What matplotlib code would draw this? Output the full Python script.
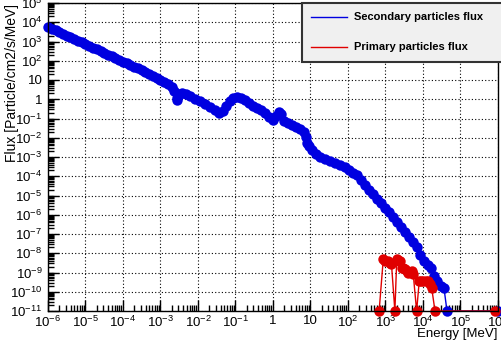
import matplotlib
matplotlib.use('Agg')
import matplotlib.pyplot as plt
import matplotlib.ticker as mticker
from matplotlib.lines import Line2D
import numpy as np

plt.rcParams['font.family'] = ['Liberation Sans', 'DejaVu Sans']
plt.rcParams['mathtext.fontset'] = 'custom'
plt.rcParams['mathtext.rm'] = 'Liberation Sans'
plt.rcParams['mathtext.it'] = 'Liberation Sans:italic'
plt.rcParams['mathtext.bf'] = 'Liberation Sans:bold'

# espectro secundario (log10 da energia em MeV, log10 do fluxo)
sec_log_e = [-6.0, -5.9, -5.8, -5.7, -5.6, -5.5, -5.4, -5.3, -5.2, -5.1,
             -5.0, -4.9, -4.8, -4.7, -4.6, -4.5, -4.4, -4.3, -4.2, -4.1,
             -4.0, -3.9, -3.8, -3.7, -3.6, -3.5, -3.4, -3.3, -3.2, -3.1,
             -3.0, -2.9, -2.8, -2.7, -2.63, -2.57, -2.55, -2.51, -2.43, -2.32,
             -2.21, -2.08, -1.95, -1.81, -1.68, -1.55, -1.44, -1.33, -1.25, -1.15,
             -1.07, -0.96, -0.85, -0.75, -0.64, -0.53, -0.43, -0.32, -0.21, -0.11,
             0.0, 0.08, 0.16, 0.21, 0.29, 0.40, 0.51, 0.61, 0.72, 0.83,
             0.88, 0.91, 0.96, 1.04, 1.15, 1.25, 1.39, 1.52, 1.65, 1.79,
             1.92, 2.03, 2.13, 2.24, 2.35, 2.45, 2.56, 2.67, 2.77, 2.88,
             2.99, 3.09, 3.20, 3.31, 3.41, 3.52, 3.63, 3.73, 3.84, 3.92,
             4.03, 4.13, 4.21, 4.29, 4.37, 4.48, 4.56, 4.64, 6.0]
sec_log_f = [3.76, 3.67, 3.58, 3.49, 3.40, 3.31, 3.22, 3.13, 3.04, 2.95,
             2.86, 2.77, 2.68, 2.59, 2.50, 2.41, 2.32, 2.23, 2.14, 2.05,
             1.96, 1.87, 1.78, 1.69, 1.60, 1.51, 1.42, 1.32, 1.22, 1.12,
             1.02, 0.92, 0.80, 0.66, 0.45, -0.03, 0.07, 0.28, 0.34, 0.28,
             0.18, 0.03, -0.08, -0.23, -0.39, -0.54, -0.70, -0.60, -0.34, -0.08,
             0.08, 0.13, 0.08, -0.03, -0.18, -0.34, -0.44, -0.54, -0.70, -0.91,
             -1.06, -0.85, -0.65, -0.75, -1.11, -1.22, -1.32, -1.42, -1.53, -1.68,
             -1.94, -2.25, -2.41, -2.62, -2.82, -2.98, -3.08, -3.19, -3.29, -3.39,
             -3.50, -3.65, -3.81, -3.96, -4.17, -4.43, -4.69, -4.90, -5.16, -5.41,
             -5.67, -5.88, -6.14, -6.40, -6.66, -6.92, -7.18, -7.44, -7.69, -8.11,
             -8.42, -8.63, -8.78, -9.20, -9.46, -9.72, -9.82, -11.0, -11.0]

# espectro primario
pri_log_e = [2.83, 2.94, 3.00, 3.07, 3.12, 3.16, 3.25, 3.30, 3.35, 3.39,
             3.43, 3.48, 3.52, 3.57, 3.61, 3.66, 3.70, 3.74, 3.83, 3.90,
             3.96, 4.01, 4.07, 4.14, 4.19, 4.23, 4.32, 5.92]
pri_log_f = [-11.0, -8.32, -8.40, -8.42, -8.50, -8.58, -11.0, -8.32, -8.38, -8.42,
             -8.75, -8.78, -8.83, -8.90, -9.00, -8.96, -8.94, -9.09, -11.0, -9.44,
             -9.42, -9.44, -9.43, -9.46, -9.60, -9.78, -11.0, -11.0]

azul = '#0000e0'
vermelho = '#e00000'

e_sec = 10.0 ** np.array(sec_log_e)
f_sec = 10.0 ** np.array(sec_log_f)
e_pri = 10.0 ** np.array(pri_log_e)
f_pri = 10.0 ** np.array(pri_log_f)

fig = plt.figure(figsize=(5.02, 3.45), dpi=100)
ax = fig.add_axes([48 / 502, 34 / 345, 450 / 502, 308 / 345])

ax.set_xscale('log')
ax.set_yscale('log')
ax.set_xlim(1e-6, 1e6)
ax.set_ylim(1e-11, 1e5)

# linhas finas + marcadores grandes, estilo ROOT
ax.plot(e_sec, f_sec, '-', color=azul, lw=1, zorder=2)
ax.plot(e_sec, f_sec, 'o', color=azul, ms=7.5, mew=0, clip_on=False, zorder=3)
ax.plot(e_pri, f_pri, '-', color=vermelho, lw=1, zorder=4)
ax.plot(e_pri, f_pri, 'o', color=vermelho, ms=7.5, mew=0, clip_on=False, zorder=5)


def rotulo(v, pos):
    n = int(round(np.log10(v)))
    if n == 0:
        return '1'
    if n == 1:
        return '10'
    return r'$10^{%d}$' % n


for eixo in (ax.xaxis, ax.yaxis):
    eixo.set_major_locator(mticker.LogLocator(base=10, numticks=30))
    eixo.set_minor_locator(mticker.LogLocator(base=10, subs=np.arange(2, 10), numticks=30))
    eixo.set_minor_formatter(mticker.NullFormatter())
    eixo.set_major_formatter(mticker.FuncFormatter(rotulo))

ax.tick_params(which='both', direction='in', top=False, right=False, labelsize=9.5, width=1)
ax.tick_params(which='major', length=8)
ax.tick_params(which='minor', length=4.5)
ax.tick_params(axis='x', pad=3)
ax.tick_params(axis='y', pad=4)

ax.grid(True, which='major', color='black', linestyle=(0, (1, 2)), linewidth=0.8)
for s in ax.spines.values():
    s.set_linewidth(1)
    s.set_zorder(6)

fig.text(12 / 502, 1 - 4 / 345, 'Flux [Particle/cm2/s/MeV]', fontsize=10,
         rotation=90, ha='center', va='top')
ax.set_xlabel('Energy [MeV]', fontsize=9.5, loc='right')
ax.xaxis.set_label_coords(1.0, -0.055)

alcas = [Line2D([], [], color=azul, lw=1), Line2D([], [], color=vermelho, lw=1)]
leg = ax.legend(alcas, ['Secondary particles flux', 'Primary particles flux'],
                loc='upper left', bbox_to_anchor=(302 / 502, 0, 210 / 502, 1 - 3 / 345),
                bbox_transform=fig.transFigure, mode='expand', borderaxespad=0,
                fancybox=False, edgecolor='#333333', facecolor='#f0f0f0', framealpha=1,
                prop={'weight': 'bold', 'size': 8}, handlelength=3.2,
                handletextpad=0.65, borderpad=0.85, labelspacing=1.8)
leg.get_frame().set_linewidth(1.5)
leg.set_zorder(10)

fig.savefig('out.png', dpi=100)
